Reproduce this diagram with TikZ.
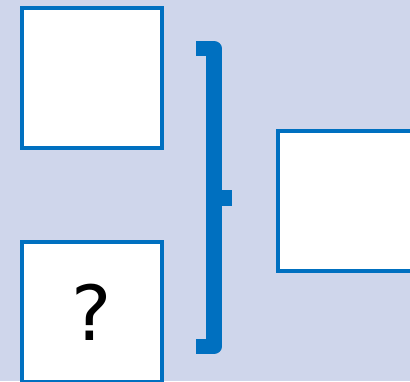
\documentclass[tikz,border=0pt]{standalone}
\usepackage{fontspec}
\setsansfont{DejaVu Sans}
\usetikzlibrary{positioning}
\definecolor{bgcol}{HTML}{CFD6EB}
\definecolor{boxblue}{HTML}{0070C0}

\begin{document}
\begin{tikzpicture}[x=1pt, y=-1pt,
  box/.style={draw=boxblue, line width=3.2pt, fill=white,
              minimum width=140pt, minimum height=140pt, inner sep=0pt,
              font=\sffamily\fontsize{76}{76}\selectfont},
  brace/.style={draw=boxblue, line width=15.5pt, line join=round, line cap=butt},
]
  % background and frame
  \fill[bgcol] (0,0) rectangle (410,381);
  \useasboundingbox (0,0) rectangle (410,381);

  % boxes
  \node[box] (upper) at (92,78) {};
  \node[box] (lower) at (92,312) {?};
  \node[box] (result) at (348,201) {};

  % bracket joining the two left boxes
  \coordinate (btop) at (196,48.5);
  \coordinate (bbot) at (196,346.5);
  \coordinate (bmid) at (214,198);
  \draw[brace] (btop) -- (214,48.5) -- (214,346.5) -- (bbot);
  \draw[boxblue, line width=16pt] (bmid) -- ++(18,0);
\end{tikzpicture}
\end{document}
